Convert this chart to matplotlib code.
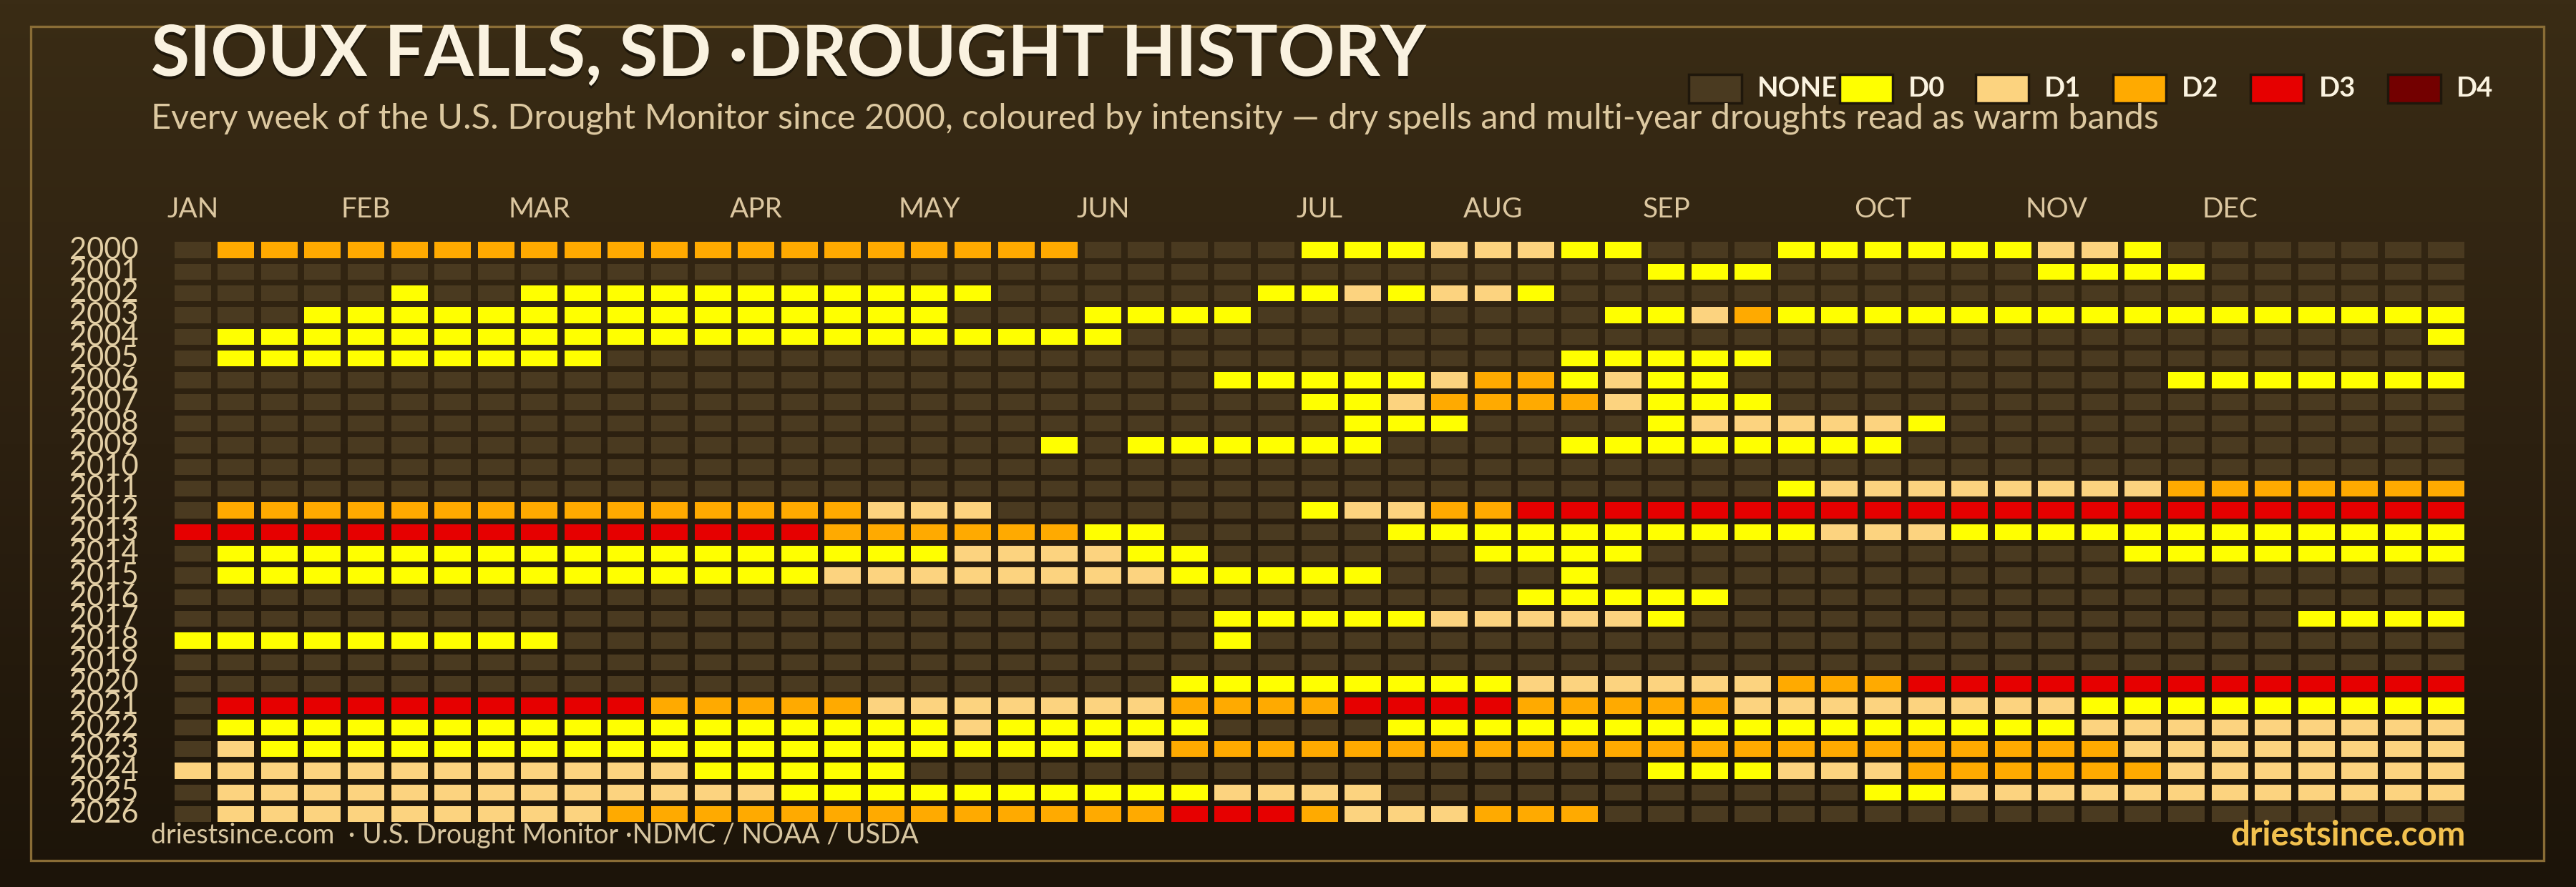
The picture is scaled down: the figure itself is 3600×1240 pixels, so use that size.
import matplotlib
matplotlib.use('Agg')
import matplotlib.pyplot as plt
import matplotlib.patheffects as pe
from matplotlib.patches import Rectangle
from matplotlib.colors import LinearSegmentedColormap
import numpy as np

plt.rcParams['font.family'] = ['Lato', 'DejaVu Sans']

# --- data -------------------------------------------------------------
years = list(range(2000, 2027))
level_names = ['NONE', 'D0', 'D1', 'D2', 'D3', 'D4']
level_colors = ['#4a3a20', '#ffff00', '#fcd37f', '#ffaa00', '#e60000', '#730000']
month_names = ['JAN', 'FEB', 'MAR', 'APR', 'MAY', 'JUN',
               'JUL', 'AUG', 'SEP', 'OCT', 'NOV', 'DEC']
month_weeks = [0, 4, 8, 13, 17, 21, 26, 30, 34, 39, 43, 47]

# one entry per year: runs of (drought level, number of weeks), -1 = none
week_runs = [
    [(-1, 1), (2, 20), (-1, 5), (0, 3), (1, 3), (0, 2), (-1, 3), (0, 6), (1, 2), (0, 1), (-1, 7)],
    [(-1, 34), (0, 3), (-1, 6), (0, 4), (-1, 6)],
    [(-1, 5), (0, 1), (-1, 2), (0, 11), (-1, 6), (0, 2), (1, 1), (0, 1), (1, 2), (0, 1), (-1, 21)],
    [(-1, 3), (0, 15), (-1, 3), (0, 4), (-1, 8), (0, 2), (1, 1), (2, 1), (0, 16)],
    [(-1, 1), (0, 21), (-1, 30), (0, 1)],
    [(-1, 1), (0, 9), (-1, 22), (0, 5), (-1, 16)],
    [(-1, 24), (0, 5), (1, 1), (2, 2), (0, 1), (1, 1), (0, 2), (-1, 10), (0, 7)],
    [(-1, 26), (0, 2), (1, 1), (2, 4), (1, 1), (0, 3), (-1, 16)],
    [(-1, 27), (0, 3), (-1, 4), (0, 1), (1, 5), (0, 1), (-1, 12)],
    [(-1, 20), (0, 1), (-1, 1), (0, 6), (-1, 4), (0, 8), (-1, 13)],
    [(-1, 53)],
    [(-1, 37), (0, 1), (1, 8), (2, 7)],
    [(-1, 1), (2, 15), (1, 3), (-1, 7), (0, 1), (1, 2), (2, 2), (3, 22)],
    [(3, 15), (2, 6), (0, 2), (-1, 5), (0, 10), (1, 3), (0, 12)],
    [(-1, 1), (0, 17), (1, 4), (0, 2), (-1, 6), (0, 4), (-1, 11), (0, 8)],
    [(-1, 1), (0, 14), (1, 8), (0, 5), (-1, 4), (0, 1), (-1, 20)],
    [(-1, 31), (0, 5), (-1, 17)],
    [(-1, 24), (0, 5), (1, 5), (0, 1), (-1, 14), (0, 4)],
    [(0, 9), (-1, 15), (0, 1), (-1, 28)],
    [(-1, 53)],
    [(-1, 23), (0, 8), (1, 6), (2, 3), (3, 13)],
    [(-1, 1), (3, 10), (2, 5), (1, 7), (2, 4), (3, 4), (2, 5), (1, 8), (0, 9)],
    [(-1, 1), (0, 17), (1, 1), (0, 5), (-1, 4), (0, 16), (1, 9)],
    [(-1, 1), (1, 1), (0, 20), (1, 1), (2, 22), (1, 8)],
    [(1, 12), (0, 5), (-1, 17), (0, 3), (1, 3), (2, 6), (1, 7)],
    [(-1, 1), (1, 13), (0, 10), (1, 4), (-1, 11), (0, 2), (1, 12)],
    [(-1, 1), (1, 9), (2, 13), (3, 3), (2, 1), (1, 3), (2, 3), (-1, 20)],
]

codes = np.array([[lvl for lvl, n in runs for _ in range(n)] for runs in week_runs])
assert codes.shape == (len(years), 53)
weeks = np.arange(codes.shape[1])

# --- figure -----------------------------------------------------------
W, H = 3600, 1240
fig = plt.figure(figsize=(W / 100, H / 100), dpi=100)

# background gradient
bg = fig.add_axes([0, 0, 1, 1], zorder=-10)
grad = np.linspace(0, 1, 256).reshape(-1, 1)
bg_cmap = LinearSegmentedColormap.from_list('bg', ['#3a2c15', '#2c2010', '#1c1409'])
bg.imshow(grad, aspect='auto', cmap=bg_cmap, extent=[0, 1, 0, 1])
bg.axis('off')

# gold frame
fig.add_artist(Rectangle((43 / W, 1 - 1203 / H), (3555 - 43) / W, (1203 - 37) / H,
                         transform=fig.transFigure, fill=False,
                         edgecolor='#8a6d36', linewidth=2.4))

# heatmap grid
ax = fig.add_axes([239.0 / W, 0.06992, 3210.2 / W, 0.6604])
ax.set_xlim(-0.5, 52.5)
ax.set_ylim(len(years) - 0.5, -0.5)
ax.axis('off')

for j, yr in enumerate(years):
    ax.bar(weeks, 0.742, width=0.842, bottom=j - 0.371,
           color=[level_colors[c + 1] for c in codes[j]], linewidth=0)
    ax.text(-1.243, j, str(yr), ha='right', va='center',
            fontsize=30, color='#e3cfa5')

for name, wk in zip(month_names, month_weeks):
    ax.text(wk, -1.86, name, ha='center', va='center',
            fontsize=28, color='#dcc7a0')

# title + subtitle
fig.text(211 / W, 1 - 106 / H, 'SIOUX FALLS, SD ·DROUGHT HISTORY',
         fontsize=71, fontweight='bold', color='#faf2e0', va='baseline',
         path_effects=[pe.SimplePatchShadow(offset=(0, -3), shadow_rgbFace='#000000', alpha=0.45),
                       pe.Normal()])
fig.text(211 / W, 1 - 179 / H,
         'Every week of the U.S. Drought Monitor since 2000, coloured by intensity — '
         'dry spells and multi-year droughts read as warm bands',
         fontsize=35, color='#dcc8a0', va='baseline')

# legend
legend_x = [2360, 2571, 2761, 2953, 3145, 3337]
for x0, name, col in zip(legend_x, level_names, level_colors):
    fig.add_artist(Rectangle((x0 / W, 1 - 144 / H), 74 / W, 40 / H,
                             transform=fig.transFigure, facecolor=col,
                             edgecolor='#1f170b', linewidth=2.5))
    fig.text((x0 + 96) / W, 1 - 135 / H, name, fontsize=27.5, fontweight='bold',
             color='#fbf3e0', va='baseline')

# footer
fig.text(211 / W, 1 - 1179 / H,
         'driestsince.com  · U.S. Drought Monitor ·NDMC / NOAA / USDA',
         fontsize=27, color='#d8c6a0', va='baseline')
fig.text(3446 / W, 1 - 1182 / H, 'driestsince.com', fontsize=34,
         fontweight='bold', color='#f2c14e', ha='right', va='baseline')

fig.savefig('out.png', dpi=100)
plt.close(fig)
